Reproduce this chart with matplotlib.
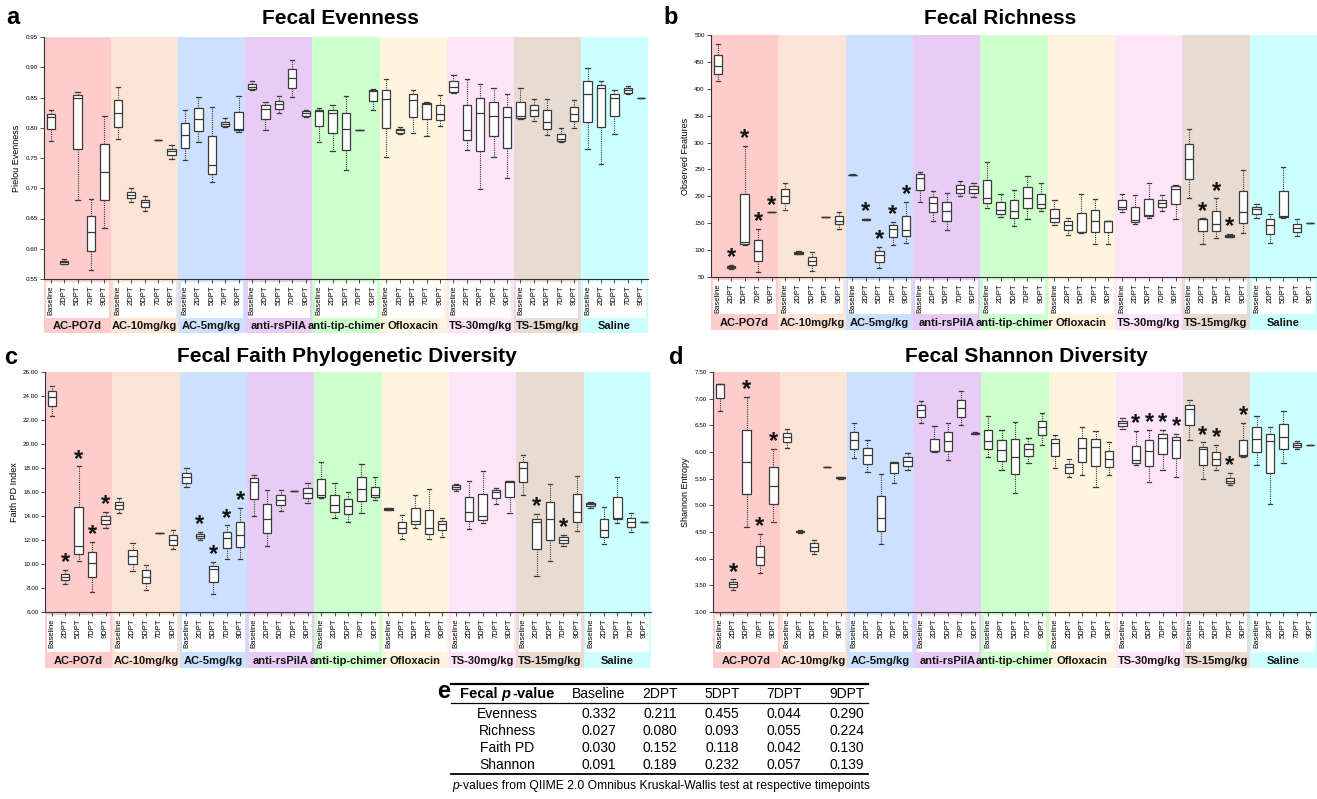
import matplotlib
matplotlib.use("Agg")
import matplotlib.pyplot as plt
from matplotlib.patches import Rectangle
from matplotlib.lines import Line2D
import matplotlib.transforms as mtransforms

plt.rcParams["font.family"] = ["Liberation Sans", "DejaVu Sans"]

W, H = 1317, 799

groups = ["AC-PO7d", "AC-10mg/kg", "AC-5mg/kg", "anti-rsPilA", "anti-tip-chimer",
          "Ofloxacin", "TS-30mg/kg", "TS-15mg/kg", "Saline"]
timepoints = ["Baseline", "2DPT", "5DPT", "7DPT", "9DPT"]
group_colors = ["#FFCCCC", "#FBE4D5", "#CCE0FF", "#E8CCF5", "#CCFFCC",
                "#FFF5DF", "#FDE4F8", "#E8DCD2", "#CCFFFF"]

# (whisker low, q1, median, q3, whisker high) per group x timepoint
evenness_stats = [
    (0.778, 0.798, 0.818, 0.823, 0.829), (0.574, 0.575, 0.578, 0.580, 0.583),
    (0.681, 0.765, 0.849, 0.854, 0.859), (0.565, 0.596, 0.627, 0.654, 0.683),
    (0.634, 0.681, 0.727, 0.773, 0.819),
    (0.781, 0.802, 0.824, 0.846, 0.867), (0.678, 0.684, 0.689, 0.694, 0.701),
    (0.663, 0.669, 0.677, 0.681, 0.687), (0.780, 0.780, 0.780, 0.780, 0.780),
    (0.749, 0.755, 0.761, 0.765, 0.771),
    (0.746, 0.767, 0.788, 0.808, 0.829), (0.776, 0.794, 0.814, 0.832, 0.851),
    (0.710, 0.724, 0.739, 0.786, 0.835), (0.801, 0.803, 0.807, 0.810, 0.816),
    (0.793, 0.797, 0.798, 0.826, 0.852),
    (0.862, 0.864, 0.868, 0.872, 0.878), (0.797, 0.814, 0.831, 0.837, 0.842),
    (0.824, 0.831, 0.840, 0.845, 0.852), (0.851, 0.866, 0.883, 0.897, 0.912),
    (0.817, 0.820, 0.824, 0.827, 0.829),
    (0.777, 0.803, 0.828, 0.830, 0.832), (0.762, 0.792, 0.825, 0.829, 0.838),
    (0.730, 0.764, 0.798, 0.824, 0.852), (0.797, 0.797, 0.797, 0.797, 0.797),
    (0.829, 0.844, 0.861, 0.863, 0.864),
    (0.751, 0.799, 0.847, 0.863, 0.880), (0.790, 0.792, 0.796, 0.798, 0.801),
    (0.791, 0.818, 0.846, 0.855, 0.863), (0.787, 0.815, 0.840, 0.841, 0.842),
    (0.803, 0.813, 0.822, 0.837, 0.854),
    (0.857, 0.859, 0.867, 0.878, 0.887), (0.764, 0.780, 0.797, 0.837, 0.880),
    (0.698, 0.761, 0.825, 0.849, 0.873), (0.752, 0.786, 0.819, 0.842, 0.866),
    (0.717, 0.767, 0.818, 0.835, 0.855),
    (0.815, 0.816, 0.820, 0.842, 0.865), (0.811, 0.820, 0.829, 0.838, 0.848),
    (0.788, 0.798, 0.809, 0.829, 0.848), (0.777, 0.778, 0.781, 0.790, 0.800),
    (0.799, 0.811, 0.823, 0.834, 0.846),
    (0.765, 0.810, 0.856, 0.877, 0.898), (0.740, 0.802, 0.865, 0.871, 0.878),
    (0.790, 0.820, 0.849, 0.856, 0.863), (0.855, 0.858, 0.862, 0.865, 0.869),
    (0.849, 0.849, 0.849, 0.849, 0.849),
]

richness_stats = [
    (414, 428, 442, 463, 484), (64, 67, 69, 71, 72),
    (110, 112, 115, 205, 294), (60, 80, 99, 119, 139),
    (170, 170, 170, 170, 170),
    (175, 187, 200, 213, 225), (92, 93, 95, 97, 98),
    (62, 72, 80, 88, 97), (162, 162, 162, 162, 162),
    (140, 148, 155, 163, 170),
    (239, 239, 240, 240, 241), (156, 156, 157, 158, 158),
    (66, 77, 90, 98, 106), (109, 125, 140, 146, 152),
    (113, 126, 138, 164, 189),
    (189, 211, 235, 241, 246), (154, 170, 187, 198, 210),
    (138, 155, 173, 190, 207), (200, 206, 214, 222, 228),
    (199, 207, 213, 220, 225),
    (179, 188, 196, 230, 263), (162, 168, 175, 190, 205),
    (145, 159, 173, 193, 211), (157, 178, 197, 217, 237),
    (172, 178, 185, 204, 224),
    (146, 153, 160, 177, 193), (129, 137, 146, 154, 160),
    (132, 133, 134, 169, 205), (112, 133, 154, 175, 195),
    (111, 133, 154, 155, 155),
    (171, 176, 180, 193, 205), (149, 152, 156, 180, 202),
    (160, 163, 166, 195, 224), (173, 181, 188, 194, 203),
    (157, 186, 214, 219, 222),
    (196, 232, 269, 297, 325), (112, 135, 157, 158, 159),
    (122, 136, 149, 173, 196), (124, 125, 127, 128, 130),
    (131, 150, 170, 210, 249),
    (160, 168, 176, 180, 185), (113, 130, 147, 157, 168),
    (159, 161, 163, 209, 254), (127, 134, 142, 149, 157),
    (151, 151, 151, 151, 151),
]

faith_stats = [
    (22.32, 23.15, 23.94, 24.44, 24.87), (8.30, 8.63, 8.94, 9.18, 9.54),
    (10.25, 10.80, 11.49, 14.78, 18.13), (7.67, 8.88, 10.11, 10.99, 11.84),
    (12.97, 13.32, 13.68, 13.96, 14.31),
    (14.29, 14.61, 14.92, 15.19, 15.52), (9.43, 10.01, 10.64, 11.18, 11.76),
    (7.84, 8.39, 8.94, 9.48, 9.95), (12.58, 12.58, 12.58, 12.58, 12.58),
    (11.24, 11.62, 12.04, 12.42, 12.83),
    (16.40, 16.78, 17.22, 17.58, 17.99), (11.98, 12.17, 12.34, 12.50, 12.69),
    (7.48, 8.50, 9.62, 9.87, 10.17), (10.42, 11.32, 12.15, 12.69, 13.22),
    (10.42, 11.40, 12.42, 13.54, 14.70),
    (13.98, 15.44, 16.86, 17.19, 17.44), (11.46, 12.58, 13.71, 14.97, 16.15),
    (14.39, 14.92, 15.30, 15.71, 16.15), (16.12, 16.12, 16.12, 16.12, 16.12),
    (15.05, 15.49, 15.93, 16.32, 16.73),
    (15.52, 15.60, 15.71, 17.11, 18.51), (13.87, 14.37, 14.92, 15.79, 16.75),
    (13.54, 14.18, 14.83, 15.38, 16.04), (14.23, 15.25, 16.29, 17.28, 18.32),
    (15.30, 15.57, 15.74, 16.45, 17.25),
    (14.50, 14.52, 14.58, 14.65, 14.70), (12.12, 12.61, 13.02, 13.46, 14.07),
    (12.97, 13.30, 13.60, 14.64, 15.77), (12.06, 12.53, 12.99, 14.53, 16.21),
    (12.28, 12.83, 13.32, 13.60, 13.87),
    (16.07, 16.21, 16.45, 16.56, 16.67), (12.91, 13.60, 14.31, 15.60, 16.95),
    (13.38, 13.68, 13.98, 15.85, 17.74), (14.97, 15.52, 16.04, 16.18, 16.32),
    (14.23, 15.57, 16.85, 16.92, 16.95),
    (15.77, 16.86, 18.02, 18.51, 19.06), (9.02, 11.24, 13.46, 13.79, 14.18),
    (10.25, 11.98, 13.74, 15.14, 16.64), (11.54, 11.79, 12.04, 12.23, 12.42),
    (12.75, 13.52, 14.34, 15.82, 17.33),
    (14.67, 14.83, 14.97, 15.08, 15.16), (11.68, 12.23, 12.83, 13.79, 14.78),
    (13.38, 13.71, 13.87, 15.57, 17.28), (12.67, 13.11, 13.52, 13.82, 14.29),
    (13.52, 13.52, 13.52, 13.52, 13.52),
]

shannon_stats = [
    (6.76, 7.01, 7.27, 7.28, 7.28), (3.42, 3.47, 3.52, 3.56, 3.61),
    (4.60, 5.21, 5.81, 6.42, 7.04), (3.74, 3.88, 4.03, 4.24, 4.47),
    (4.69, 5.03, 5.37, 5.71, 6.05),
    (6.08, 6.18, 6.28, 6.35, 6.44), (4.49, 4.50, 4.51, 4.52, 4.53),
    (4.09, 4.15, 4.22, 4.29, 4.35), (5.71, 5.71, 5.71, 5.71, 5.71),
    (5.50, 5.51, 5.52, 5.53, 5.54),
    (5.88, 6.05, 6.23, 6.38, 6.55), (5.63, 5.78, 5.94, 6.07, 6.22),
    (4.27, 4.51, 4.76, 5.18, 5.59), (5.41, 5.61, 5.80, 5.81, 5.81),
    (5.67, 5.74, 5.84, 5.90, 5.99),
    (6.54, 6.65, 6.79, 6.88, 6.96), (6.00, 6.01, 6.02, 6.25, 6.48),
    (5.85, 6.02, 6.20, 6.37, 6.55), (6.50, 6.66, 6.82, 6.97, 7.14),
    (6.33, 6.34, 6.35, 6.36, 6.37),
    (5.90, 6.05, 6.20, 6.42, 6.68), (5.66, 5.84, 6.04, 6.22, 6.41),
    (5.24, 5.58, 5.91, 6.24, 6.56), (5.80, 5.92, 6.05, 6.15, 6.27),
    (6.14, 6.31, 6.46, 6.59, 6.73),
    (5.70, 5.93, 6.17, 6.24, 6.31), (5.53, 5.61, 5.71, 5.78, 5.86),
    (5.57, 5.82, 6.07, 6.27, 6.47), (5.35, 5.73, 6.10, 6.24, 6.39),
    (5.57, 5.71, 5.86, 6.02, 6.19),
    (6.43, 6.49, 6.55, 6.59, 6.63), (5.76, 5.80, 5.85, 6.12, 6.39),
    (5.44, 5.73, 6.02, 6.22, 6.42), (5.66, 5.96, 6.26, 6.33, 6.42),
    (5.54, 5.88, 6.23, 6.28, 6.34),
    (6.22, 6.50, 6.81, 6.89, 6.97), (5.50, 5.76, 6.05, 6.10, 6.18),
    (5.67, 5.76, 5.86, 6.00, 6.13), (5.38, 5.41, 5.45, 5.52, 5.60),
    (5.91, 5.92, 5.94, 6.23, 6.54),
    (5.75, 6.00, 6.24, 6.46, 6.68), (5.03, 5.61, 6.21, 6.33, 6.47),
    (5.79, 6.05, 6.29, 6.52, 6.77), (6.05, 6.10, 6.13, 6.17, 6.20),
    (6.13, 6.13, 6.13, 6.13, 6.13),
]

# significant boxes: (group index, timepoint index)
richness_stars = [(0, 1), (0, 2), (0, 3), (0, 4), (2, 1), (2, 2), (2, 3), (2, 4),
                  (7, 1), (7, 2), (7, 3)]
faith_stars = [(0, 1), (0, 2), (0, 3), (0, 4), (2, 1), (2, 2), (2, 3), (2, 4),
               (7, 1), (7, 3)]
shannon_stars = [(0, 1), (0, 2), (0, 3), (0, 4), (6, 1), (6, 2), (6, 3), (6, 4),
                 (7, 1), (7, 2), (7, 3), (7, 4)]

table_cols = ["Baseline", "2DPT", "5DPT", "7DPT", "9DPT"]
table_rows = ["Evenness", "Richness", "Faith PD", "Shannon"]
table_vals = [
    ["0.332", "0.211", "0.455", "0.044", "0.290"],
    ["0.027", "0.080", "0.093", "0.055", "0.224"],
    ["0.030", "0.152", "0.118", "0.042", "0.130"],
    ["0.091", "0.189", "0.232", "0.057", "0.139"],
]

TITLE_FONT = ["Liberation Sans Narrow", "Liberation Sans", "DejaVu Sans"]
EDGE = "#3a3a3a"

fig = plt.figure(figsize=(W / 100, H / 100), dpi=100, facecolor="white")


def panel(rect_px, stats, stars, yticks, fmt, ylabel, tick_y, label_y, band_y):
    left, top, right, bottom = rect_px
    ax = fig.add_axes([left / W, 1 - bottom / H, (right - left) / W, (bottom - top) / H])
    hpx = bottom - top

    def frac(ypx):
        return (bottom - ypx) / hpx

    n = len(groups) * len(timepoints)
    pos = list(range(n))
    bxp_stats = [dict(whislo=s[0], q1=s[1], med=s[2], q3=s[3], whishi=s[4], fliers=[])
                 for s in stats]
    ax.bxp(bxp_stats, positions=pos, widths=0.62, patch_artist=True, showfliers=False,
           capwidths=0.32,
           boxprops=dict(facecolor="white", edgecolor=EDGE, linewidth=0.9),
           medianprops=dict(color=EDGE, linewidth=0.9),
           whiskerprops=dict(color=EDGE, linewidth=0.8, linestyle=(0, (1, 1))),
           capprops=dict(color=EDGE, linewidth=0.9),
           manage_ticks=False, zorder=3)

    trans = mtransforms.blended_transform_factory(ax.transData, ax.transAxes)
    for g, (name, col) in enumerate(zip(groups, group_colors)):
        x0 = g * 5 - 0.5
        ax.add_patch(Rectangle((x0, frac(band_y)), 5, 1 - frac(band_y), transform=trans,
                               facecolor=col, edgecolor="none", zorder=0, clip_on=False))
        ax.add_patch(Rectangle((x0 + 0.18, frac(tick_y[1])), 5 - 0.36,
                               frac(tick_y[0]) - frac(tick_y[1]), transform=trans,
                               facecolor="white", edgecolor="none", zorder=0.5,
                               clip_on=False))
        ax.text(g * 5 + 2, frac(label_y), name, transform=trans, ha="center",
                va="center", fontsize=8, fontweight="bold", color="#111111")

    for g, t in stars:
        i = g * 5 + t
        ax.annotate("*", xy=(i, stats[i][4]), xytext=(0, -3), textcoords="offset points",
                    ha="center", va="bottom", fontsize=17, fontweight="bold",
                    color="#111111", zorder=4)

    ax.set_xlim(-0.5, n - 0.5)
    ax.set_ylim(yticks[0], yticks[-1])
    ax.set_xticks(pos, labels=timepoints * len(groups), rotation=90, fontsize=5.5)
    ax.set_yticks(yticks, labels=[fmt.format(v) for v in yticks], fontsize=4.5)
    ax.tick_params(axis="x", length=3, width=0.6, pad=1.5, color="#333333")
    ax.tick_params(axis="y", length=3, width=0.6, pad=1.5, color="#333333")
    ax.set_ylabel(ylabel, fontsize=6.5, labelpad=3)
    for s in ("top", "right"):
        ax.spines[s].set_visible(False)
    for s in ("left", "bottom"):
        ax.spines[s].set_linewidth(0.8)
        ax.spines[s].set_color("#333333")
        ax.spines[s].set_zorder(5)
    return ax


panel((44, 37, 648, 279), evenness_stats, [],
      [0.55 + 0.05 * k for k in range(9)], "{:.2f}", "Pielou Evenness",
      (282, 318), 326, 333)
panel((711, 35, 1317, 277), richness_stats, richness_stars,
      list(range(50, 501, 50)), "{:d}", "Observed Features",
      (280, 314), 323, 330)
panel((45, 372, 651, 612), faith_stats, faith_stars,
      [6.0 + 2 * k for k in range(11)], "{:.2f}", "Faith PD Index",
      (615, 652), 661, 668)
panel((713, 372, 1317, 612), shannon_stats, shannon_stars,
      [3.0 + 0.5 * k for k in range(10)], "{:.2f}", "Shannon Entropy",
      (615, 652), 661, 668)

titles = [("a", 13, 18, "Fecal Evenness", 340, 19),
          ("b", 671, 18, "Fecal Richness", 1000, 19),
          ("c", 11, 357, "Fecal Faith Phylogenetic Diversity", 347, 357),
          ("d", 676, 357, "Fecal Shannon Diversity", 1026, 357)]
for letter, lx, ly, title, tx, ty in titles:
    fig.text(lx / W, 1 - ly / H, letter, fontsize=17, fontweight="bold",
             ha="center", va="center")
    fig.text(tx / W, 1 - ty / H, title, fontsize=15, fontweight="bold",
             family=TITLE_FONT, ha="center", va="center")

# ---- table e ----
tab = fig.add_axes([0, 0, 1, 1], facecolor="none")
tab.set_xlim(0, W)
tab.set_ylim(H, 0)
tab.axis("off")

tx0, tx1 = 451, 868
col_x = [507, 599, 660, 722, 784, 847]
row_y = [714, 731, 748, 765]
tab.text(444, 691, "e", fontsize=17, fontweight="bold", ha="center", va="center")
tab.add_line(Line2D([tx0, tx1], [684, 684], color="black", lw=1.6))
tab.add_line(Line2D([tx0, tx1], [703, 703], color="black", lw=0.9))
tab.add_line(Line2D([tx0, tx1], [774, 774], color="black", lw=1.3))

h1 = tab.text(460, 694, "Fecal ", fontsize=10.5, fontweight="bold",
              ha="left", va="center")
h2 = tab.annotate("p", xy=(1, 0.5), xycoords=h1, ha="left", va="center",
                  fontsize=10.5, fontweight="bold", fontstyle="italic")
tab.annotate("-value", xy=(1, 0.5), xycoords=h2, xytext=(1.5, 0),
             textcoords="offset points", ha="left", va="center",
             fontsize=10.5, fontweight="bold")
for c, name in enumerate(table_cols):
    tab.text(col_x[c + 1], 694, name, fontsize=10, ha="center", va="center")
for name, vals, y in zip(table_rows, table_vals, row_y):
    tab.text(col_x[0], y, name, fontsize=10, ha="center", va="center")
    for c, v in enumerate(vals):
        tab.text(col_x[c + 1], y, v, fontsize=10, ha="center", va="center")

f1 = tab.text(tx0 + 1, 786, "p", fontsize=8.7, fontstyle="italic", ha="left", va="center")
tab.annotate("-values from QIIME 2.0 Omnibus Kruskal-Wallis test at respective timepoints",
             xy=(1, 0.5), xycoords=f1, ha="left", va="center", fontsize=8.7)

fig.savefig("out.png", dpi=100, facecolor="white")
